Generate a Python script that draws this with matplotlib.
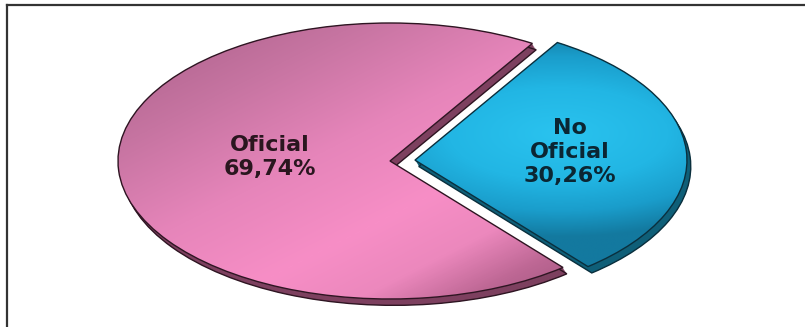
import numpy as np
import matplotlib.pyplot as plt
from matplotlib.colors import LinearSegmentedColormap
from matplotlib.lines import Line2D
from matplotlib.patches import PathPatch

# data
categories = ["No Oficial", "Oficial"]
shares = [30.26, 69.74]
labels = ["No\nOficial\n30,26%", "Oficial\n69,74%"]
explode = [0.092, 0.0]

top_cols = ["#22b9e6", "#f08ac0"]
side_cols = ["#0f5f78", "#7d405f"]
edge_cols = ["#0a2f3d", "#2e1522"]

# pie centre and radii in pixels (the chart is a stretched ellipse)
cx, cy, rx, ry = 390, 161, 272, 138
W, H = 805, 327

fig = plt.figure(figsize=(W / 100, H / 100), dpi=100)
fig.patch.set_facecolor("white")

# frame (only top and left visible)
fig.add_artist(Line2D([6.5 / W, 6.5 / W], [0, 1 - 4.5 / H], color="#333333", lw=1.6))
fig.add_artist(Line2D([6.5 / W, 1], [1 - 4.5 / H, 1 - 4.5 / H], color="#333333", lw=1.6))

ax = fig.add_axes([0, 0, 1, 1])
ax.set_axis_off()

start = -50.5

# 3d thickness: stacked darker copies shifted down
for k in range(7, 0, -1):
    ax.pie(shares, explode=explode, startangle=start, colors=side_cols,
           center=(0.002 * k, -0.0065 * k), wedgeprops=dict(linewidth=0))
bw, _ = ax.pie(shares, explode=explode, startangle=start, colors=side_cols,
               center=(0.014, -0.046), wedgeprops=dict(linewidth=1.0))
for w, ec in zip(bw, edge_cols):
    w.set_edgecolor(ec)

wedges, _ = ax.pie(shares, explode=explode, startangle=start, colors=top_cols,
                   wedgeprops=dict(linewidth=0))

# shading gradients clipped to the top faces
gx, gy = np.meshgrid(np.linspace(-1.2, 1.2, 400), np.linspace(1.2, -1.2, 400))
s = (gx - gy) / 2.0
pink_cmap = LinearSegmentedColormap.from_list(
    "pk", [(0.0, "#a95f88"), (0.22, "#c674a1"), (0.42, "#e685ba"),
           (0.6, "#f78ec6"), (0.72, "#ec88bd"), (0.82, "#bd6794"), (1.0, "#8a476c")])
im = ax.imshow(np.clip((s + 1) / 2, 0, 1), cmap=pink_cmap, vmin=0, vmax=1,
               extent=(-1.2, 1.2, -1.2, 1.2), aspect="auto",
               zorder=wedges[1].get_zorder() + 0.1, interpolation="bilinear")
im.set_clip_path(wedges[1])

r = np.hypot(gx - 0.62, (gy - 0.2) * 1.2)
blue_cmap = LinearSegmentedColormap.from_list(
    "bl", [(0.0, "#2ac3ef"), (0.45, "#22b6e4"), (0.75, "#1a9dcb"), (1.0, "#13799f")])
im2 = ax.imshow(np.clip(r / 0.9, 0, 1), cmap=blue_cmap, vmin=0, vmax=1,
                extent=(-1.2, 1.2, -1.2, 1.2), aspect="auto",
                zorder=wedges[0].get_zorder() + 0.1, interpolation="bilinear")
im2.set_clip_path(wedges[0])

# outlines on top of the gradients
for w, ec in zip(wedges, edge_cols):
    ax.add_patch(PathPatch(w.get_path(), fill=False, edgecolor=ec, linewidth=1.0,
                           zorder=5, transform=w.get_transform()))

ax.set_aspect("auto")
ax.set_xlim((0 - cx) / rx, (W - cx) / rx)
ax.set_ylim((cy - H) / ry, cy / ry)

ax.text((270 - cx) / rx, (cy - 157) / ry, labels[1], ha="center", va="center",
        multialignment="center", fontsize=16, fontweight="bold", color="#2a161f",
        family="DejaVu Sans", linespacing=1.25, zorder=6)
ax.text((570 - cx) / rx, (cy - 152) / ry, labels[0], ha="center", va="center",
        multialignment="center", fontsize=16, fontweight="bold", color="#0b2633",
        family="DejaVu Sans", linespacing=1.25, zorder=6)

fig.savefig("out.png", dpi=100)
